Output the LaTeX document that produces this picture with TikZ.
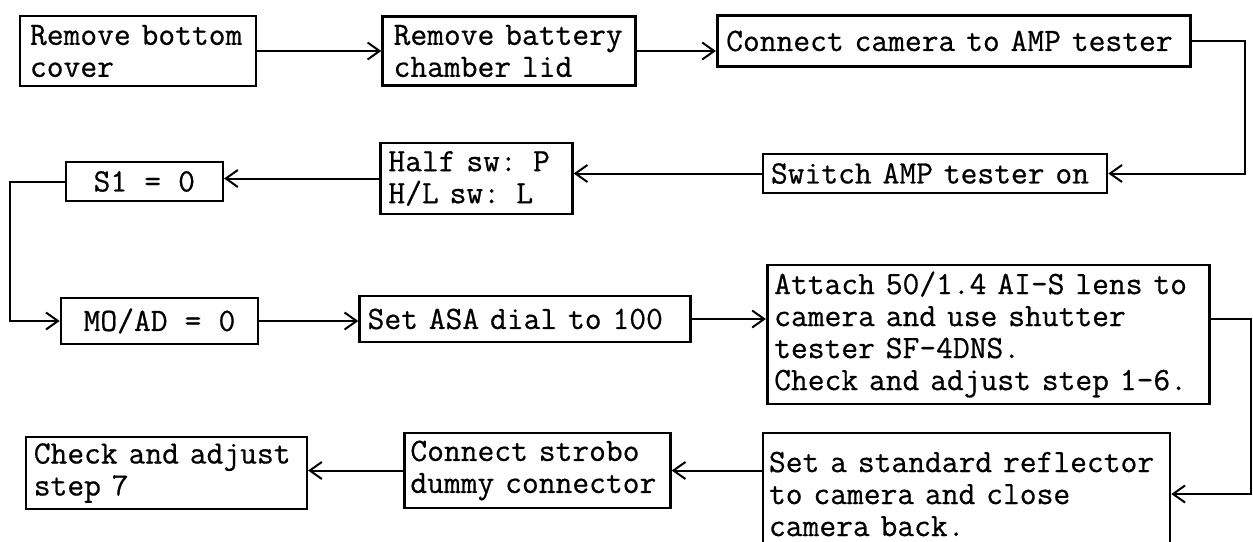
\documentclass[tikz,border=0pt]{standalone}
\usepackage{fontspec}
\setmonofont[FakeBold=0.6]{Latin Modern Mono}
\usetikzlibrary{positioning,arrows.meta}
\newcommand\boxfont{\ttfamily\fontsize{16.3}{16}\selectfont\spaceskip=0.525em\relax\xspaceskip=0.525em\relax}

\begin{document}
\begin{tikzpicture}[
    x=0.5pt,y=0.5pt,
    every node/.style={font=\boxfont},
    stepbox/.style={draw,line width=1.3pt,inner xsep=4pt,inner ysep=2pt,align=left},
    midbox/.style={draw,line width=1.3pt,inner sep=2pt,align=center},
    arr/.style={-{Straight Barb[length=6pt,width=8.5pt]},line width=1pt},
]
\useasboundingbox (0,0) rectangle (1253,-541);

% top row: open the camera
\node[stepbox,inner xsep=5pt,text width=108pt,minimum height=35pt] (bottom) at (138,-51) {Remove bottom\\cover};
\node[stepbox,inner xsep=5.5pt,text width=115.5pt,minimum height=34.5pt,right=62pt of bottom] (battery) {Remove battery\\chamber lid};
\node[stepbox,inner xsep=4.5pt,text width=227.5pt,minimum height=25.5pt,right=39.5pt of battery,yshift=5pt] (connect) {Connect camera to AMP tester};

% second row: tester settings
\node[stepbox,text width=164pt,minimum height=19.5pt] (switch) at (935,-173.5) {Switch AMP tester on};
\node[stepbox,text width=88pt,minimum height=35.5pt,left=94pt of switch,yshift=-2.5pt] (half) {Half sw: P\\H/L sw: L};
\node[midbox,minimum width=78.5pt,minimum height=19.5pt,left=77.5pt of half,yshift=-1.5pt] (s1) {S1 = 0};

% third row: shutter check
\node[midbox,minimum width=98.5pt,minimum height=23pt] (moad) at (159.5,-321) {MO/AD = 0};
\node[stepbox,text width=157.5pt,minimum height=23pt,right=49.5pt of moad,yshift=1pt] (asa) {Set ASA dial to 100};
\node[stepbox,text width=214pt,inner xsep=3.5pt,minimum height=69.5pt,right=37pt of asa,yshift=-7.75pt] (attach) {Attach 50/1.4 AI-S lens to\\camera and use shutter\\tester SF-4DNS.\\Check and adjust step 1-6.};

% bottom row: strobo check
\node[stepbox,inner xsep=3pt,text width=197.5pt,minimum height=61pt] (reflector) at (966.5,-494) {Set a standard reflector\\to camera and close\\camera back.};
\node[stepbox,inner xsep=3pt,text width=127pt,minimum height=37.5pt,left=45pt of reflector,yshift=11.75pt] (strobo) {Connect strobo\\dummy connector};
\node[stepbox,text width=132.5pt,minimum height=36pt,left=47.5pt of strobo,yshift=-1.25pt] (check) {Check and adjust\\step 7};

\coordinate (rtop) at (1245,0);
\coordinate (lft) at (10,0);
\coordinate (rmid) at (1251,0);

\draw[arr] (bottom) -- (bottom.east -| battery.west);
\draw[arr] (battery) -- (battery.east -| connect.west);
\draw[arr] (connect.east) -| (rtop |- switch.east) -- (switch.east);
\draw[arr] (switch) -- (switch.west -| half.east);
\draw[arr] (half) -- (half.west -| s1.east);
\draw[arr] (s1.west) -| (lft |- moad.west) -- (moad.west);
\draw[arr] (moad) -- (moad.east -| asa.west);
\draw[arr] (asa) -- (asa.east -| attach.west);
\draw[arr] (attach.east |- asa.east) -| (rmid |- reflector.east) -- (reflector.east);
\draw[arr] (reflector.west |- strobo.east) -- (strobo.east);
\draw[arr] (strobo) -- (strobo.west -| check.east);
\end{tikzpicture}
\end{document}
